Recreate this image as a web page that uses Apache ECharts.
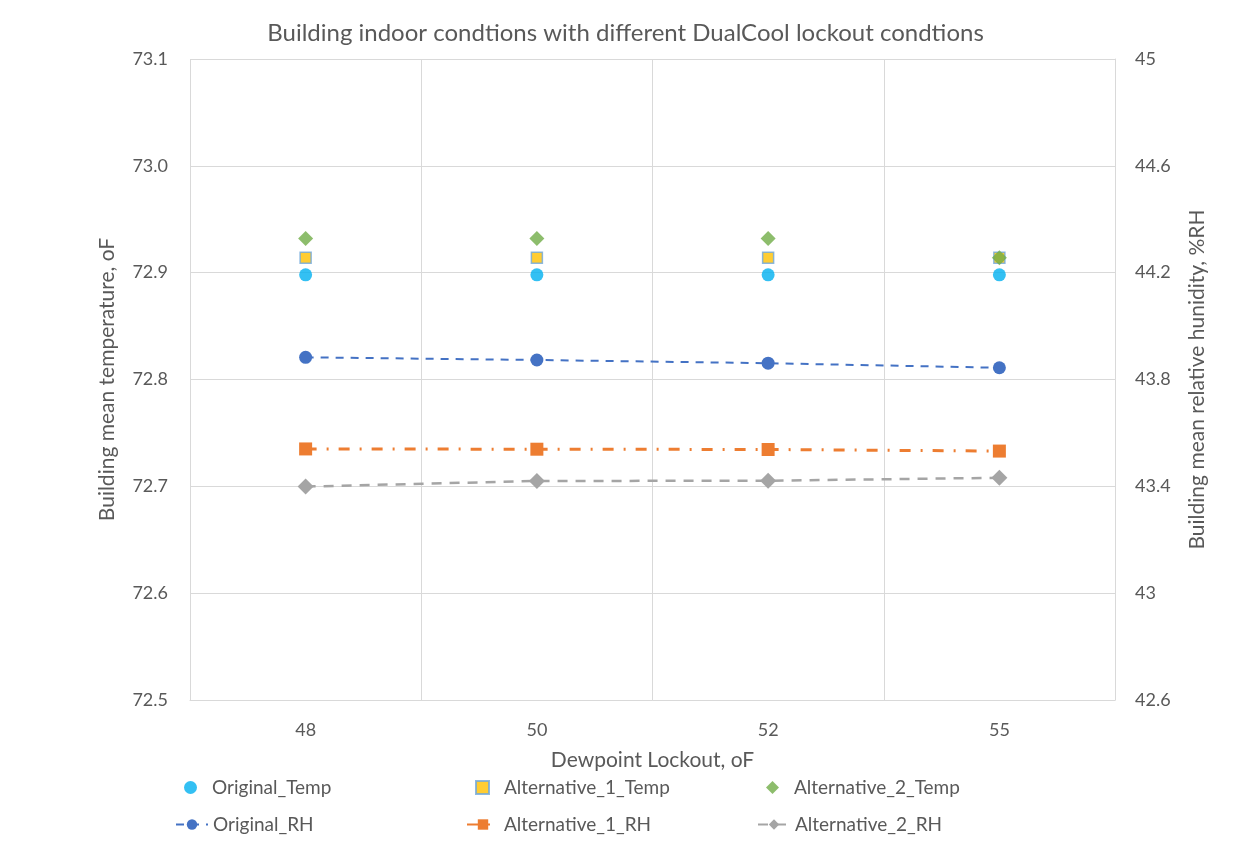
<!DOCTYPE html>
<html><head><meta charset="utf-8">
<script src="https://cdn.jsdelivr.net/npm/echarts@6/dist/echarts.min.js"></script>
<style>html,body{margin:0;padding:0;background:#fff}#c{width:1251px;height:846px}</style>
</head><body><div id="c"></div>
<script>
const categories = ['48', '50', '52', '55'];
const originalTemp = [72.898, 72.898, 72.898, 72.898];
const alt1Temp = [72.914, 72.914, 72.914, 72.914];
const alt2Temp = [72.932, 72.932, 72.932, 72.914];
const originalRH = [43.883, 43.873, 43.861, 43.844];
const alt1RH = [43.540, 43.539, 43.538, 43.532];
const alt2RH = [43.399, 43.420, 43.421, 43.432];
const leftTicks = {min: 72.5, max: 73.1, interval: 0.1};
const rightTicks = {min: 42.6, max: 45, interval: 0.4};

const FONT = 'Lato';
const TXT = '#595959';
const chart = echarts.init(document.getElementById('c'), null, {renderer: 'canvas'});
function lgT(name, left, top) {
  return {data: [name], left: left, top: top, itemWidth: 13, itemHeight: 13, itemGap: 0,
    textStyle: {fontFamily: FONT, fontSize: 19, color: TXT, padding: [0, 0, 0, 10]}};
}
function lgL(name, left, top) {
  return {data: [name], left: left, top: top, itemWidth: 32, itemHeight: 13, itemGap: 0,
    textStyle: {fontFamily: FONT, fontSize: 19, color: TXT}};
}
chart.setOption({
  animation: false,
  title: {text: 'Building indoor condtions with different DualCool lockout condtions', left: 'center', top: 16,
    textStyle: {fontFamily: FONT, fontSize: 24, fontWeight: 'normal', color: TXT}},
  grid: {left: 190, right: 136, top: 59, bottom: 146, containLabel: false},
  legend: [
    lgT('Original_Temp', 179, 773), lgT('Alternative_1_Temp', 470, 773), lgT('Alternative_2_Temp', 761, 773),
    lgL('Original_RH', 170, 810), lgL('Alternative_1_RH', 461, 810), lgL('Alternative_2_RH', 752, 810)
  ],
  xAxis: {type: 'category', data: categories, boundaryGap: true,
    name: 'Dewpoint Lockout, oF', nameLocation: 'middle', nameGap: 50,
    nameTextStyle: {fontFamily: FONT, fontSize: 21, color: TXT},
    axisLine: {show: true, lineStyle: {color: '#d9d9d9'}}, axisTick: {show: false},
    axisLabel: {fontFamily: FONT, fontSize: 18, color: TXT, margin: 21},
    splitLine: {show: true, lineStyle: {color: '#d9d9d9', width: 1}}},
  yAxis: [
    {type: 'value', min: leftTicks.min, max: leftTicks.max, interval: leftTicks.interval,
      name: 'Building mean temperature, oF', nameLocation: 'middle', nameGap: 72,
      nameTextStyle: {fontFamily: FONT, fontSize: 21, color: TXT},
      axisLine: {show: false}, axisTick: {show: false},
      axisLabel: {fontFamily: FONT, fontSize: 18, color: TXT, margin: 22, formatter: v => v.toFixed(1)},
      splitLine: {show: true, lineStyle: {color: '#d9d9d9', width: 1}}},
    {type: 'value', min: rightTicks.min, max: rightTicks.max, interval: rightTicks.interval, position: 'right',
      name: 'Building mean relative hunidity, %RH', nameLocation: 'middle', nameGap: 72,
      nameTextStyle: {fontFamily: FONT, fontSize: 21, color: TXT},
      axisLine: {show: true, lineStyle: {color: '#d9d9d9'}}, axisTick: {show: false},
      axisLabel: {fontFamily: FONT, fontSize: 18, color: TXT, margin: 20,
        formatter: v => String(Math.round(v * 10) / 10)},
      splitLine: {show: false}}
  ],
  series: [
    {name: 'Original_RH', type: 'line', yAxisIndex: 1, data: originalRH, symbol: 'circle', symbolSize: 13,
      itemStyle: {color: '#4472C4'}, lineStyle: {color: '#4472C4', width: 2, type: [8, 7]}},
    {name: 'Alternative_1_RH', type: 'line', yAxisIndex: 1, data: alt1RH, symbol: 'rect', symbolSize: 13,
      itemStyle: {color: '#ED7D31'}, lineStyle: {color: '#ED7D31', width: 3, type: [11, 10, 2, 10]}},
    {name: 'Alternative_2_RH', type: 'line', yAxisIndex: 1, data: alt2RH, symbol: 'diamond', symbolSize: 16,
      itemStyle: {color: '#A5A5A5'}, lineStyle: {color: '#A5A5A5', width: 2.5, type: [10, 8]}},
    {name: 'Original_Temp', type: 'scatter', yAxisIndex: 0, data: originalTemp, symbol: 'circle', symbolSize: 13,
      itemStyle: {color: '#00B0F0'}},
    {name: 'Alternative_1_Temp', type: 'scatter', yAxisIndex: 0, data: alt1Temp, symbol: 'rect', symbolSize: 11,
      itemStyle: {color: '#FFC000', borderColor: '#6FA8DC', borderWidth: 1.5}},
    {name: 'Alternative_2_Temp', type: 'scatter', yAxisIndex: 0, data: alt2Temp, symbol: 'diamond', symbolSize: 15,
      itemStyle: {color: '#70AD47'}}
  ]
});
</script></body></html>
